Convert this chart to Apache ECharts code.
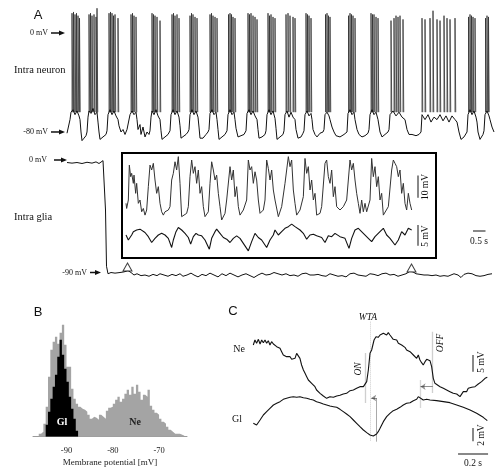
<!DOCTYPE html>
<html><head><meta charset="utf-8">
<script src="https://cdn.jsdelivr.net/npm/echarts@6.0.0/dist/echarts.min.js"></script>
<style>html,body{margin:0;padding:0;background:#fff}#c{width:500px;height:476px}</style>
</head><body><div id="c"></div>
<script>
// ---------------- DATA ----------------
// Panel A: intracellular neuron, slow membrane trace [time s, mV]
const neuronTrace = [[-0.12,-81],[-0.04,-80],[0,-70],[0.04,-64],[0.12,-62],[0.2,-66],[0.28,-63],[0.36,-67],[0.4,-70],[0.44,-80],[0.48,-87],[0.56,-85],[0.64,-83],[0.68,-80],
[0.72,-68],[0.76,-63],[0.84,-65],[0.92,-61],[1.0,-66],[1.08,-64],[1.12,-72],[1.16,-80],[1.2,-86],[1.32,-84],[1.44,-82],[1.48,-79],
[1.52,-66],[1.6,-62],[1.68,-66],[1.76,-63],[1.84,-67],[1.92,-70],[1.96,-75],[2.04,-80],[2.12,-78],[2.2,-82],[2.28,-78],[2.36,-79],
[2.4,-66],[2.48,-63],[2.56,-66],[2.64,-64],[2.68,-70],[2.72,-78],[2.8,-74],[2.84,-82],[2.92,-76],[3.0,-84],[3.08,-80],[3.16,-82],[3.2,-79],
[3.24,-68],[3.28,-63],[3.36,-66],[3.44,-62],[3.52,-67],[3.6,-70],[3.64,-79],[3.68,-86],[3.8,-84],[3.92,-82],[4.0,-79],
[4.04,-66],[4.12,-62],[4.2,-66],[4.28,-63],[4.36,-68],[4.4,-75],[4.44,-85],[4.52,-84],[4.64,-82],[4.72,-80],[4.76,-78],
[4.8,-66],[4.88,-62],[4.96,-66],[5.04,-63],[5.12,-68],[5.16,-76],[5.2,-85],[5.32,-85],[5.44,-82],[5.52,-80],[5.56,-78],
[5.6,-65],[5.68,-62],[5.76,-66],[5.84,-64],[5.88,-70],[5.92,-78],[5.96,-86],[6.08,-84],[6.2,-82],[6.28,-79],
[6.32,-66],[6.4,-62],[6.48,-66],[6.56,-64],[6.6,-70],[6.64,-77],[6.72,-84],[6.84,-83],[6.96,-82],[7.04,-79],
[7.08,-65],[7.16,-62],[7.24,-66],[7.32,-63],[7.4,-67],[7.48,-70],[7.52,-78],[7.56,-85],[7.68,-84],[7.8,-82],[7.84,-79],
[7.88,-66],[7.96,-62],[8.04,-66],[8.12,-63],[8.2,-69],[8.24,-77],[8.28,-86],[8.4,-84],[8.52,-82],[8.56,-79],
[8.6,-66],[8.68,-63],[8.76,-68],[8.84,-64],[8.92,-68],[9.0,-70],[9.04,-78],[9.12,-85],[9.24,-84],[9.32,-81],[9.36,-79],
[9.4,-66],[9.48,-63],[9.56,-67],[9.64,-65],[9.68,-70],[9.72,-78],[9.8,-82],[9.88,-84],[10.0,-81],[10.12,-80],[10.16,-78],
[10.2,-66],[10.28,-64],[10.36,-67],[10.4,-70],[10.48,-76],[10.56,-80],[10.64,-83],[10.8,-84],[10.96,-82],[11.08,-80],
[11.12,-65],[11.2,-62],[11.28,-66],[11.36,-64],[11.4,-70],[11.48,-78],[11.56,-82],[11.68,-84],[11.8,-83],[11.92,-81],[11.96,-78],
[12.0,-66],[12.08,-62],[12.16,-66],[12.24,-64],[12.32,-70],[12.4,-80],[12.48,-84],[12.6,-82],[12.72,-80],[12.76,-78],
[12.8,-66],[12.92,-63],[13.04,-67],[13.16,-64],[13.28,-68],[13.4,-70],[13.48,-78],[13.56,-82],[13.68,-82],[13.84,-83],[13.96,-82],[14.04,-80],
[14.08,-66],[14.2,-70],[14.32,-66],[14.44,-72],[14.56,-68],[14.68,-70],[14.8,-66],[14.92,-71],[15.04,-67],[15.16,-72],[15.28,-67],[15.4,-70],[15.48,-72],[15.56,-80],[15.64,-86],[15.76,-84],[15.88,-80],
[15.92,-66],[16.0,-62],[16.08,-66],[16.16,-63],[16.24,-68],[16.28,-72],[16.32,-80],[16.4,-86],[16.52,-82],[16.56,-79],
[16.6,-66],[16.68,-63],[16.76,-67],[16.8,-70],[16.88,-76],[16.96,-80]];

// Action potential times (s) and peak values (mV)
const spikeTimes = [0.08,0.14,0.2,0.26,0.32,0.38, 0.76,0.82,0.88,0.96,1.04,1.08, 1.56,1.62,1.68,1.74,1.8,1.92,
2.44,2.5,2.56,2.64, 3.28,3.34,3.4,3.48,3.6, 4.08,4.14,4.2,4.28,4.36, 4.8,4.86,4.92,5.0,5.08, 5.6,5.66,5.72,5.8,5.88,
6.34,6.4,6.46,6.52,6.6, 7.12,7.18,7.24,7.32,7.4,7.48, 7.92,7.98,8.04,8.12,8.2, 8.64,8.72,8.8,8.92,9.0,
9.44,9.5,9.56,9.64, 10.22,10.28,10.34,10.4, 11.14,11.2,11.26,11.32,11.4, 12.04,12.1,12.16,12.24,12.32,
12.84,12.96,13.04,13.12,13.2,13.32, 14.08,14.2,14.4,14.52,14.68,14.8,14.96,15.08,15.2,15.4,
15.94,16.0,16.06,16.12,16.2, 16.62,16.68,16.74];
const spikePeaks = [16,17,15,16,14,12, 15,16,14,15,13,20, 16,17,16,14,15,12,
15,16,14,13, 16,15,14,13,10, 15,16,14,15,12, 14,16,15,13,12, 15,16,14,13,12,
15,16,15,13,12, 16,15,16,14,13,11, 16,14,15,13,12, 15,16,14,13,12,
16,15,14,12, 15,16,14,13, 14,16,15,14,12, 16,15,15,13,12,
10,12,14,13,14,11, 12,11,12,18,11,10,14,12,11,12,
13,15,14,13,12, 12,14,13];

// Panel A: intracellular glia [time s, mV]
const gliaTrace = [[-0.12,-2],[0.08,-2.5],[0.28,-2],[0.48,-2.8],[0.68,-1.8],[0.88,-2.5],[1.04,-1.5],[1.16,-2.8],[1.24,-1.8],[1.32,-0.5],[1.38,-2],[1.42,-40],[1.46,-85],[1.52,-91],[1.64,-90],[1.8,-90.5],[2.0,-90],[2.16,-89.5],[2.32,-88.5],[2.44,-90],[2.56,-92],[2.68,-91],[2.84,-92.5],[3.0,-92],[3.16,-93],[3.32,-91.5],[3.48,-92.5],[3.6,-91],[3.76,-92],[3.92,-93],[4.08,-91.5],[4.24,-92.5],[4.4,-91],[4.52,-93],[4.68,-92],[4.84,-90.5],[4.96,-92],[5.12,-93.5],[5.28,-91.5],[5.44,-92.5],[5.6,-90.5],[5.76,-92],[5.92,-93.5],[6.08,-91],[6.24,-92.5],[6.4,-90.5],[6.56,-92],[6.72,-93.5],[6.88,-92],[7.04,-91],[7.2,-92.5],[7.36,-94],[7.52,-92],[7.68,-90.5],[7.84,-92],[8.0,-91.5],[8.16,-90],[8.32,-91],[8.48,-92],[8.64,-91],[8.8,-92.5],[8.96,-92],[9.12,-93],[9.28,-91],[9.44,-90.5],[9.6,-92],[9.76,-92],[9.92,-91.5],[10.08,-92.5],[10.24,-93],[10.4,-91],[10.56,-92],[10.72,-93],[10.88,-92.5],[11.04,-93.5],[11.2,-91],[11.36,-90.5],[11.52,-92],[11.68,-92.5],[11.84,-93],[12.0,-91],[12.16,-91.5],[12.32,-92.5],[12.48,-91],[12.64,-90.5],[12.8,-92],[12.96,-91.5],[13.12,-93],[13.28,-92],[13.44,-91],[13.6,-89],[13.72,-89.5],[13.84,-91],[14.0,-91.5],[14.16,-92],[14.32,-92],[14.48,-92.5],[14.64,-92],[14.8,-93],[14.96,-92.5],[15.12,-93],[15.24,-92],[15.36,-91],[15.52,-92],[15.64,-94],[15.76,-91.5],[15.92,-90.5],[16.08,-91],[16.24,-92.5],[16.4,-93],[16.56,-92.5],[16.72,-91.5],[16.88,-91]];

// Triangle markers on the glia trace [time s], [mV]
const markerTimes = [2.3, 13.66];
const markerMv = [-85.6, -86.4];

// Inset: expanded neuron (top) and glia (bottom) traces [time s, mV]
const insetNeuron = [[0.12,-76],[0.14,-78.3],[0.19,-74.5],[0.22,-58.8],[0.26,-64],[0.29,-62.5],[0.34,-67],[0.36,-63.3],[0.41,-71.5],[0.44,-67],[0.49,-76],[0.54,-74.5],[0.59,-79.8],[0.64,-78.3],[0.69,-81.3],[0.74,-79],
[0.79,-68.5],[0.84,-58.8],[0.89,-61],[0.94,-58],[0.99,-65.5],[1.04,-71.5],[1.09,-68.5],[1.14,-76],[1.19,-79.8],[1.24,-81.3],[1.29,-79.8],[1.39,-79],[1.44,-77.5],
[1.49,-65.5],[1.54,-62.5],[1.59,-57.3],[1.64,-61],[1.69,-55],[1.74,-67],[1.79,-82],[1.84,-81.3],[1.94,-80.5],[1.99,-77.5],
[2.04,-64],[2.09,-56.5],[2.14,-62.5],[2.19,-59.5],[2.24,-67],[2.29,-61],[2.34,-71.5],[2.39,-68.5],[2.44,-77.5],[2.49,-82],[2.59,-79.8],
[2.64,-67],[2.69,-57.3],[2.74,-61],[2.79,-65.5],[2.84,-63.3],[2.89,-71.5],[2.94,-77.5],[2.99,-83.5],[3.09,-80.5],[3.14,-74.5],
[3.24,-59.5],[3.29,-65.5],[3.34,-61],[3.39,-73],[3.44,-68.5],[3.49,-77.5],[3.54,-81.3],[3.64,-79],[3.74,-74.5],
[3.79,-56.5],[3.84,-61],[3.89,-59.5],[3.94,-67],[3.99,-61.8],[4.04,-65.5],[4.09,-74.5],[4.14,-80.5],[4.24,-79],[4.29,-74.5],
[4.34,-56.5],[4.39,-60.3],[4.44,-65.5],[4.49,-61],[4.54,-70],[4.59,-74.5],[4.69,-82],[4.79,-77.5],
[4.89,-67],[4.94,-61],[4.99,-55],[5.04,-59.5],[5.09,-56.5],[5.14,-70],[5.19,-76],[5.24,-81.3],[5.34,-79],[5.44,-73],
[5.49,-55.8],[5.54,-62.5],[5.59,-59.5],[5.64,-70],[5.69,-65.5],[5.74,-74.5],[5.79,-71.5],[5.84,-81.3],[5.94,-80.5],[5.99,-77.5],
[6.09,-58],[6.14,-56.5],[6.19,-64],[6.24,-67],[6.29,-61],[6.34,-73],[6.39,-68.5],[6.44,-77.5],[6.54,-79],[6.64,-77.5],[6.74,-74.5],
[6.84,-56.5],[6.89,-61],[6.94,-58],[6.99,-65.5],[7.04,-71.5],[7.09,-76],[7.14,-80.5],[7.19,-74.5],[7.24,-79.8],[7.29,-76],[7.34,-79.8],[7.39,-79],[7.44,-74.5],
[7.49,-55.8],[7.54,-64],[7.59,-59.5],[7.64,-68.5],[7.69,-64],[7.74,-74.5],[7.79,-71.5],[7.84,-81.3],[7.89,-82],[7.99,-77.5],
[8.09,-61],[8.14,-56.5],[8.19,-58],[8.24,-59.5],[8.29,-64],[8.34,-61],[8.39,-71.5],[8.44,-67],[8.49,-76],[8.54,-79],[8.59,-71.5],[8.64,-76],[8.69,-79]];
const insetGlia = [[0.12,-90.4],[0.19,-91.6],[0.29,-90.4],[0.34,-89.6],[0.44,-89.2],[0.54,-89.0],[0.69,-89.8],[0.79,-90.8],[0.89,-92.2],[0.99,-91.2],[1.09,-90.4],[1.19,-90],[1.29,-90.4],[1.39,-91.2],[1.49,-93.4],
[1.54,-91.6],[1.62,-89.6],[1.69,-88.6],[1.79,-89.2],[1.89,-90],[1.99,-91],[2.06,-92.6],[2.14,-90.8],[2.22,-90],[2.29,-90.4],[2.39,-90.6],[2.49,-91.6],[2.62,-93.8],
[2.69,-91.2],[2.79,-89.6],[2.84,-89],[2.94,-90],[3.04,-91],[3.14,-91.4],[3.24,-92.2],[3.34,-91.2],[3.44,-90.6],[3.54,-91.2],[3.64,-92.4],[3.79,-94.2],
[3.89,-92],[3.99,-90],[4.09,-91],[4.19,-91.6],[4.34,-93.4],[4.44,-91.6],[4.54,-90.4],[4.59,-89.2],[4.69,-90.4],[4.79,-89.6],[4.89,-88.8],[4.99,-88.4],[5.09,-87.8],
[5.19,-88.4],[5.34,-89.2],[5.44,-90],[5.54,-91.4],[5.64,-90.4],[5.74,-90.2],[5.84,-90.6],[5.99,-91],[6.09,-92.2],[6.19,-90.6],[6.29,-90.8],[6.39,-90],[6.54,-90.8],[6.69,-91.2],[6.81,-93.6],
[6.89,-91.2],[6.99,-89.2],[7.09,-88.8],[7.24,-90],[7.39,-91.2],[7.49,-92],[7.59,-90.8],[7.74,-89.6],[7.84,-88.8],[7.94,-90.4],[8.04,-91.2],[8.19,-92.8],[8.29,-91.6],[8.39,-89.6],[8.49,-90.4],[8.59,-88.8],[8.64,-88.6],[8.69,-89.2]];

// Panel B: membrane potential histograms (counts per 0.5 mV bin)
const histNeStart = -96;
const histGlStart = -94.5;
const histBinWidth = 0.5;
const histNe = [3,5,13,30,60,87,95,100,93,104,112,92,70,70,48,38,33,30,28,27,25,22,18,20,19,17,22,20,18,26,29,30,33,37,40,35,38,43,47,42,50,43,52,45,37,42,40,47,31,27,24,22,18,15,13,10,7,5,3,3,3,2,1];
const histGl = [12,25,38,50,62,80,97,82,68,55,40,28,18,6];
const histTicks = [-90, -80, -70];

// Panel C: single cycle, neuron (Ne) and glia (Gl) [time ms, mV]
const cNe = [[2,-59],[13,-57.5],[24,-58.5],[36,-57.3],[47,-58.7],[58,-57.5],[69,-58.3],[80,-57.5],[91,-58.5],[102,-57.7],[113,-59],[124,-58],[136,-58.7],[147,-58.3],[158,-59.5],[180,-60],[191,-61],[202,-62],[213,-61.5],[224,-62.5],[247,-62.5],[258,-63.3],[269,-62.8],[280,-63],[291,-61.5],[302,-61.3],[313,-63],[324,-65],[336,-66.5],[347,-67.5],[358,-68.5],[369,-69.5],[380,-69],[391,-70.5],[402,-71],[413,-71.5],[424,-72.5],[436,-72.7],[447,-73.5],[469,-74.3],[491,-75],[513,-74.5],[536,-74.7],[558,-74.3],[580,-74.1],[602,-73.7],[624,-73.5],[647,-72.7],[669,-72.5],[691,-72],[713,-71.5],[736,-71.5],[747,-71],[758,-70],[769,-66.5],[780,-61.5],[791,-60.5],[802,-60],[807,-57.5],[820,-56.5],[835,-56.7],[847,-56],[858,-56.5],[869,-55.5],[880,-55],[891,-56],[902,-55.3],[913,-56],[924,-56.5],[935,-57.3],[947,-56.7],[958,-57.5],[969,-58.5],[980,-58],[991,-59],[1002,-58.5],[1013,-59.7],[1024,-60.5],[1035,-60],[1047,-61],[1058,-61.5],[1069,-62],[1091,-63],[1102,-62],[1113,-63.5],[1124,-64.3],[1135,-65],[1147,-64],[1158,-63.3],[1169,-63],[1180,-63.7],[1191,-65.5],[1202,-69],[1213,-70.5],[1224,-71],[1247,-71.5],[1269,-72],[1291,-72.5],[1313,-73],[1335,-73.5],[1358,-73.7],[1380,-74.5],[1402,-73],[1413,-72.5],[1424,-73],[1435,-72],[1447,-72.5],[1458,-71.7],[1469,-72.3],[1480,-71.5],[1491,-72],[1502,-70.7],[1513,-71],[1524,-70],[1535,-70.5],[1547,-69],[1562,-68.7]];
const cGl = [[2,-90],[24,-90.25],[47,-89.5],[69,-88.75],[91,-88.25],[113,-87.75],[136,-87.25],[158,-87],[180,-86.75],[202,-86.4],[224,-86.25],[247,-86.1],[269,-86],[291,-86.1],[313,-86],[336,-86.15],[358,-86.25],[380,-86.4],[402,-86.5],[424,-86.75],[447,-86.9],[469,-87.1],[491,-87.25],[513,-87.4],[536,-87.5],[558,-87.6],[580,-87.9],[602,-88.25],[624,-88.6],[647,-89],[669,-89.5],[691,-90],[713,-90.5],[736,-91],[758,-91.4],[780,-91.75],[802,-91.9],[813,-91.9],[824,-91.6],[835,-91.25],[847,-90.75],[858,-90.25],[869,-89.75],[891,-89],[913,-88.5],[935,-88.1],[958,-87.9],[980,-87.6],[1002,-87.25],[1024,-87],[1047,-86.9],[1069,-86.6],[1091,-86.4],[1102,-86],[1113,-86.1],[1135,-86.5],[1158,-86.4],[1180,-86.5],[1224,-86.6],[1269,-86.75],[1313,-86.9],[1358,-87.25],[1402,-87.6],[1447,-88],[1491,-88.5],[1535,-89.1],[1562,-89.6]];
// Event times in panel C (ms)
const cEventNames = ['ON', 'WTA', 'GlMin', 'GlPeak', 'OFF'];
const cEventTimes = [747, 784, 824, 1113, 1198];

// ---------------- CHART ----------------
const SERIF = '"Liberation Serif", "DejaVu Serif", serif';
const SANS = '"Liberation Sans", Arial, sans-serif';
const chart = echarts.init(document.getElementById('c'), null, {renderer: 'canvas'});
const ev = {}; cEventNames.forEach((n, i) => ev[n] = cEventTimes[i]);

function hideX(gi, min, max) { return {type: 'value', gridIndex: gi, min, max, show: false}; }
function hideY(gi, min, max) { return {type: 'value', gridIndex: gi, min, max, show: false}; }
function stepData(start, w, vals) {
  const d = [[start, 0]];
  vals.forEach((v, i) => d.push([start + i * w, v]));
  d.push([start + vals.length * w, 0]);
  return d;
}
const SPIKE_BASE = -64;
const spikeLines = spikeTimes.map((t, i) => ({coords: [[t, SPIKE_BASE], [t, spikePeaks[i]], [t + 0.03, SPIKE_BASE]]}));

function seg(x0, y0, x1, y1) { return {coords: [[x0, y0], [x1, y1]]}; }

const option = {
  animation: false,
  backgroundColor: '#fff',
  grid: [
    {left: 66, top: 8.25, width: 428, height: 142.3},
    {left: 66, top: 147.5, width: 428, height: 137.5},
    {left: 122, top: 153, width: 314, height: 105, show: true, borderColor: '#000', borderWidth: 2, backgroundColor: 'transparent'},
    {left: 33, top: 316.7, width: 154, height: 120},
    {left: 253, top: 300, width: 235, height: 160}
  ],
  xAxis: [
    hideX(0, -0.16, 16.96),
    hideX(1, -0.16, 16.96),
    hideX(2, 0, 9.42),
    {type: 'value', gridIndex: 3, min: -97.24, max: -63.97,
      axisLine: {show: true, lineStyle: {color: '#9a9a9a', width: 1}},
      axisTick: {show: false}, splitLine: {show: false},
      axisLabel: {customValues: histTicks, margin: 10, color: '#222', fontFamily: SERIF, fontSize: 8.5},
      name: 'Membrane potential [mV]', nameLocation: 'middle', nameGap: 21,
      nameTextStyle: {fontFamily: SERIF, fontSize: 9, color: '#222'}},
    hideX(4, 0, 1566.7)
  ],
  yAxis: [
    hideY(0, -95, 20),
    hideY(1, -100, 10),
    hideY(2, -100.6, -53.35),
    hideY(2, -95.92, -70.72),
    hideY(3, 0, 120),
    hideY(4, -93.5, -45.5),
    hideY(4, -95.5, -71.5)
  ],
  series: [
    // Panel A neuron
    {type: 'line', xAxisIndex: 0, yAxisIndex: 0, data: neuronTrace, symbol: 'none', lineStyle: {color: '#111', width: 1}},
    {type: 'lines', coordinateSystem: 'cartesian2d', xAxisIndex: 0, yAxisIndex: 0, polyline: true, data: spikeLines,
      lineStyle: {color: '#2a2a2a', width: 1, opacity: 0.75}},
    // Panel A glia
    {type: 'line', xAxisIndex: 1, yAxisIndex: 1, data: gliaTrace, symbol: 'none', lineStyle: {color: '#111', width: 1}},
    {type: 'scatter', xAxisIndex: 1, yAxisIndex: 1, data: markerTimes.map((t, i) => [t, markerMv[i]]),
      symbol: 'triangle', symbolSize: [9, 8], itemStyle: {color: '#fff', borderColor: '#111', borderWidth: 1}, z: 5},
    // 0.5 s scale bar
    {type: 'lines', coordinateSystem: 'cartesian2d', xAxisIndex: 1, yAxisIndex: 1, data: [seg(16.12, -56.6, 16.62, -56.6)], lineStyle: {color: '#111', width: 2}},
    // Inset
    {type: 'line', xAxisIndex: 2, yAxisIndex: 2, data: insetNeuron, symbol: 'none', lineStyle: {color: '#333', width: 1}},
    {type: 'line', xAxisIndex: 2, yAxisIndex: 3, data: insetGlia, symbol: 'none', lineStyle: {color: '#111', width: 1.1}},
    {type: 'lines', coordinateSystem: 'cartesian2d', xAxisIndex: 2, yAxisIndex: 2, data: [seg(8.87, -63.5, 8.87, -73.5)], lineStyle: {color: '#111', width: 2}},
    {type: 'lines', coordinateSystem: 'cartesian2d', xAxisIndex: 2, yAxisIndex: 3, data: [seg(8.87, -88, 8.87, -93)], lineStyle: {color: '#111', width: 2}},
    // Panel B histograms
    {type: 'line', xAxisIndex: 3, yAxisIndex: 4, step: 'end', data: stepData(histNeStart, histBinWidth, histNe), symbol: 'none',
      lineStyle: {width: 0}, areaStyle: {color: '#a4a4a4', opacity: 1}},
    {type: 'line', xAxisIndex: 3, yAxisIndex: 4, step: 'end', data: stepData(histGlStart, histBinWidth, histGl), symbol: 'none',
      lineStyle: {width: 0}, areaStyle: {color: '#000', opacity: 1}},
    // Panel C traces
    {type: 'line', xAxisIndex: 4, yAxisIndex: 5, data: cNe, symbol: 'none', lineStyle: {color: '#111', width: 1.1}},
    {type: 'line', xAxisIndex: 4, yAxisIndex: 6, data: cGl, symbol: 'none', lineStyle: {color: '#111', width: 1.1}},
    // Panel C event markers
    {type: 'lines', coordinateSystem: 'cartesian2d', xAxisIndex: 4, yAxisIndex: 5,
      data: [seg(ev.ON, -61.4, ev.ON, -76.4), seg(ev.OFF, -55, ev.OFF, -73.4)], lineStyle: {color: '#a0a0a0', width: 1.3}},
    {type: 'lines', coordinateSystem: 'cartesian2d', xAxisIndex: 4, yAxisIndex: 5,
      data: [seg(ev.WTA, -52, ev.WTA, -88)], lineStyle: {color: '#a0a0a0', width: 1, type: [1, 1]}},
    {type: 'lines', coordinateSystem: 'cartesian2d', xAxisIndex: 4, yAxisIndex: 6,
      data: [seg(ev.GlMin, -86.2, ev.GlMin, -92.75)], lineStyle: {color: '#555', width: 1}},
    {type: 'lines', coordinateSystem: 'cartesian2d', xAxisIndex: 4, yAxisIndex: 6,
      data: [seg(ev.GlPeak, -83.5, ev.GlPeak, -87.7)], lineStyle: {color: '#b0b0b0', width: 1.3}},
    {type: 'lines', coordinateSystem: 'cartesian2d', xAxisIndex: 4, yAxisIndex: 6,
      data: [seg(ev.GlMin, -86.2, ev.WTA + 4, -86.2), seg(ev.OFF, -84.5, ev.GlPeak + 4, -84.5)],
      symbol: ['none', 'arrow'], symbolSize: 5, lineStyle: {color: '#222', width: 1}},
    // Panel C scale bars
    {type: 'lines', coordinateSystem: 'cartesian2d', xAxisIndex: 4, yAxisIndex: 5, data: [seg(1465, -62, 1465, -67)], lineStyle: {color: '#111', width: 2}},
    {type: 'lines', coordinateSystem: 'cartesian2d', xAxisIndex: 4, yAxisIndex: 6,
      data: [seg(1465, -90.7, 1465, -92.7), seg(1367, -94.5, 1567, -94.5)], lineStyle: {color: '#111', width: 2}}
  ]
};
chart.setOption(option);

// ---------------- LABELS ----------------
function px(gi, x, y) { return chart.convertToPixel({gridIndex: gi}, [x, y]); }
function txt(text, x, y, opt) {
  opt = opt || {};
  return {type: 'text', x, y, rotation: opt.rot || 0, z: 100,
    style: {text, font: opt.font || ('10px ' + SERIF), fill: opt.fill || '#111',
      align: opt.align || 'center', verticalAlign: 'middle'}};
}
function arrowRight(x0, x1, y) {
  return [
    {type: 'line', z: 100, shape: {x1: x0, y1: y, x2: x1 - 4, y2: y}, style: {stroke: '#111', lineWidth: 1.5}},
    {type: 'polygon', z: 100, shape: {points: [[x1 - 6, y - 2.5], [x1, y], [x1 - 6, y + 2.5]]}, style: {fill: '#111'}}
  ];
}
const yN0 = px(0, 0, 0)[1], yN80 = px(0, 0, -80)[1];
const yG0 = px(1, 0, 0)[1], yG90 = px(1, 0, -90)[1];
const small = '8px ' + SERIF;
const g = [
  txt('A', 38, 15, {font: '13px ' + SANS}),
  txt('B', 38, 312, {font: '13px ' + SANS}),
  txt('C', 233, 311, {font: '13px ' + SANS}),
  txt('0 mV', 48, yN0, {font: small, align: 'right'}), ...arrowRight(51, 65, yN0),
  txt('-80 mV', 48, yN80, {font: small, align: 'right'}), ...arrowRight(51, 65, yN80),
  txt('Intra neuron', 14, 70, {font: '10.5px ' + SERIF, align: 'left'}),
  txt('0 mV', 47, yG0, {font: small, align: 'right'}), ...arrowRight(54, 67, yG0),
  txt('-90 mV', 87, yG90, {font: small, align: 'right'}), ...arrowRight(90, 101, yG90),
  txt('Intra glia', 14, 217, {font: '10.5px ' + SERIF, align: 'left'}),
  txt('10 mV', 425, 187, {font: '9.5px ' + SERIF, rot: Math.PI / 2}),
  txt('5 mV', 425, 236, {font: '9.5px ' + SERIF, rot: Math.PI / 2}),
  txt('0.5 s', 479, 241, {font: '9.5px ' + SERIF}),
  txt('Gl', 62, 422, {font: 'bold 10px ' + SERIF, fill: '#fff'}),
  txt('Ne', 135, 422, {font: 'bold 10px ' + SERIF, fill: '#222'}),
  txt('Ne', 239, 349, {font: '10px ' + SERIF}),
  txt('Gl', 237, 419, {font: '10px ' + SERIF}),
  txt('WTA', 368, 317, {font: 'italic 9.5px ' + SERIF}),
  txt('ON', 358.5, 369, {font: 'italic 9.5px ' + SERIF, rot: Math.PI / 2}),
  txt('OFF', 440, 343, {font: 'italic 9.5px ' + SERIF, rot: Math.PI / 2}),
  txt('5 mV', 481, 362, {font: '9.5px ' + SERIF, rot: Math.PI / 2}),
  txt('2 mV', 481, 435, {font: '9.5px ' + SERIF, rot: Math.PI / 2}),
  txt('0.2 s', 473, 463, {font: '9.5px ' + SERIF})
];
chart.setOption({graphic: {elements: g}});
</script></body></html>
